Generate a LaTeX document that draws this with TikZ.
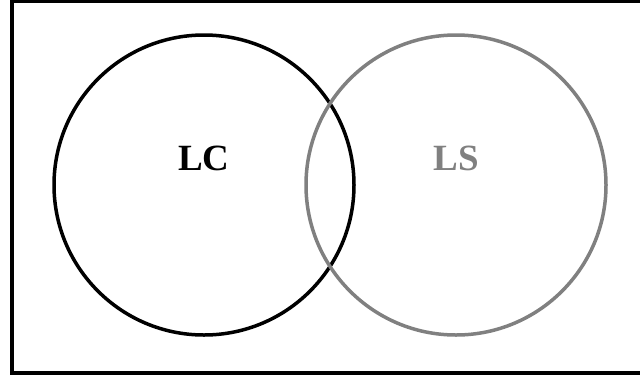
\documentclass[tikz,border=0pt]{standalone}
\usepackage{fontspec}
\setmainfont{Liberation Serif}

\begin{document}
\begin{tikzpicture}[x=1pt, y=-1pt,
    set/.style={circle, draw, line width=3.5pt, minimum size=300pt, inner sep=0pt},
    setlabel/.style={font=\fontsize{37}{37}\selectfont\bfseries}
]

    \useasboundingbox (0,0) rectangle (640,376);
    \clip (0,0) rectangle (640,376);

    \draw[line width=4pt] (660,0.5) -- (12,0.5) -- (12,373) -- (660,373);

    \node[set] (LC) at (204,185) {};
    \node[set, draw=gray] (LS) at (456,185) {};

    \node[setlabel] (LCtext) at (204,158) {LC};
    \node[setlabel, text=gray] (LStext) at (456,158) {LS};

\end{tikzpicture}
\end{document}
